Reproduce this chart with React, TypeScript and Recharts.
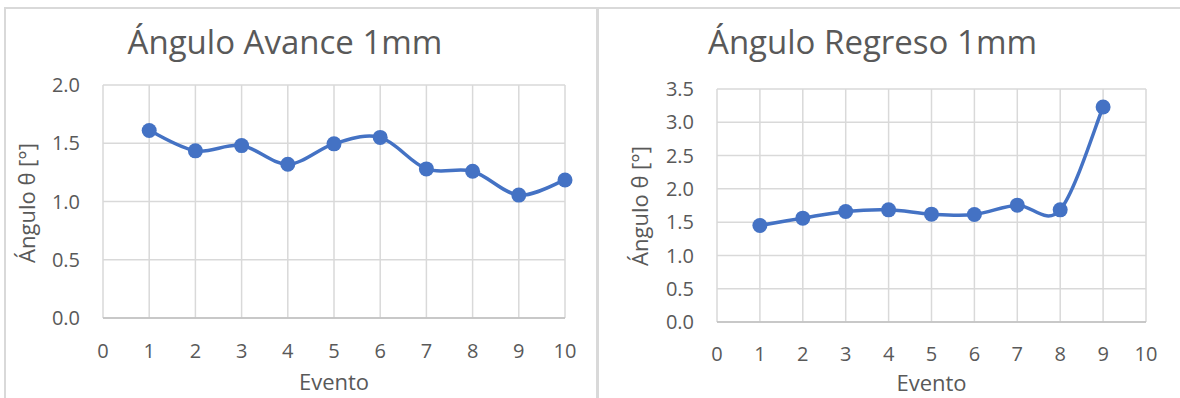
import React from 'react';
import { LineChart, Line, XAxis, YAxis, CartesianGrid } from 'recharts';

const avanceEvents = [1, 2, 3, 4, 5, 6, 7, 8, 9, 10];
const avanceValues = [1.61, 1.435, 1.48, 1.32, 1.495, 1.55, 1.28, 1.26, 1.055, 1.185];
const regresoEvents = [1, 2, 3, 4, 5, 6, 7, 8, 9];
const regresoValues = [1.45, 1.56, 1.66, 1.685, 1.62, 1.615, 1.755, 1.685, 3.23];
const xTicks = [0, 1, 2, 3, 4, 5, 6, 7, 8, 9, 10];
const avanceYTicks = [0, 0.5, 1, 1.5, 2];
const regresoYTicks = [0, 0.5, 1, 1.5, 2, 2.5, 3, 3.5];

const avanceData = avanceEvents.map((e, i) => ({ evento: e, angulo: avanceValues[i] }));
const regresoData = regresoEvents.map((e, i) => ({ evento: e, angulo: regresoValues[i] }));

const FONT = '"Open Sans", "DejaVu Sans", sans-serif';
const TEXT = '#595959';
const GRID = '#D9D9D9';
const BLUE = '#4472C4';

// Excel-like smoothed line (uniform Catmull-Rom as cubic Bezier)
function excelSmooth(context: any) {
  let pts: number[][] = [];
  return {
    areaStart() {},
    areaEnd() {},
    lineStart() {
      pts = [];
    },
    lineEnd() {
      const n = pts.length;
      if (n === 0) return;
      context.moveTo(pts[0][0], pts[0][1]);
      for (let i = 0; i < n - 1; i++) {
        const p0 = pts[i - 1] || pts[i];
        const p1 = pts[i];
        const p2 = pts[i + 1];
        const p3 = pts[i + 2] || pts[i + 1];
        context.bezierCurveTo(
          p1[0] + (p2[0] - p0[0]) / 6,
          p1[1] + (p2[1] - p0[1]) / 6,
          p2[0] - (p3[0] - p1[0]) / 6,
          p2[1] - (p3[1] - p1[1]) / 6,
          p2[0],
          p2[1]
        );
      }
    },
    point(x: number, y: number) {
      pts.push([+x, +y]);
    },
  };
}

const tickStyle = { fontSize: 20, fill: TEXT, fontFamily: FONT };
const fmt = (v: number) => v.toFixed(1);

export default function App() {
  return (
    <div style={{ position: 'absolute', left: 0, top: 0, width: 1180, height: 398, background: '#fff', overflow: 'hidden' }}>
      <div style={{ position: 'absolute', left: 4, top: 7, width: 590, height: 400, borderTop: `2px solid ${GRID}`, borderLeft: `2px solid ${GRID}`, borderRight: `2px solid ${GRID}` }} />
      <div style={{ position: 'absolute', left: 598, top: 7, width: 600, height: 400, borderTop: `2px solid ${GRID}`, borderLeft: `1px solid ${GRID}` }} />

      <div style={{ position: 'absolute', left: 0, top: 0 }}>
        <LineChart width={590} height={398} data={avanceData} margin={{ top: 85, right: 25, bottom: 20, left: 43 }}>
          <CartesianGrid stroke={GRID} strokeWidth={1.5} />
          <XAxis
            type="number"
            dataKey="evento"
            domain={[0, 10]}
            ticks={xTicks}
            height={60}
            tickLine={false}
            tickSize={0}
            tickMargin={26}
            axisLine={{ stroke: '#BFBFBF', strokeWidth: 1.5 }}
            tick={tickStyle}
            interval={0}
          />
          <YAxis
            type="number"
            domain={[0, 2]}
            ticks={avanceYTicks}
            width={60}
            tickLine={false}
            tickSize={0}
            tickMargin={23}
            axisLine={false}
            tick={tickStyle}
            tickFormatter={fmt}
            interval={0}
          />
          <Line
            dataKey="angulo"
            type={excelSmooth as any}
            stroke={BLUE}
            strokeWidth={3.5}
            dot={{ r: 7.5, fill: BLUE, stroke: BLUE, strokeWidth: 0 }}
            isAnimationActive={false}
          />
        </LineChart>
      </div>

      <div style={{ position: 'absolute', left: 598, top: 0 }}>
        <LineChart width={582} height={398} data={regresoData} margin={{ top: 89, right: 34, bottom: 20, left: 59 }}>
          <CartesianGrid stroke={GRID} strokeWidth={1.5} />
          <XAxis
            type="number"
            dataKey="evento"
            domain={[0, 10]}
            ticks={xTicks}
            height={56}
            tickLine={false}
            tickSize={0}
            tickMargin={25}
            axisLine={{ stroke: '#BFBFBF', strokeWidth: 1.5 }}
            tick={tickStyle}
            interval={0}
          />
          <YAxis
            type="number"
            domain={[0, 3.5]}
            ticks={regresoYTicks}
            width={60}
            tickLine={false}
            tickSize={0}
            tickMargin={23}
            axisLine={false}
            tick={tickStyle}
            tickFormatter={fmt}
            interval={0}
          />
          <Line
            dataKey="angulo"
            type={excelSmooth as any}
            stroke={BLUE}
            strokeWidth={3.5}
            dot={{ r: 7.5, fill: BLUE, stroke: BLUE, strokeWidth: 0 }}
            isAnimationActive={false}
          />
        </LineChart>
      </div>

      <svg width={1180} height={398} style={{ position: 'absolute', left: 0, top: 0, pointerEvents: 'none' }}>
        <g fontFamily={FONT} fill={TEXT}>
          <text x={285} y={54} textAnchor="middle" fontSize={33}>Ángulo Avance 1mm</text>
          <text x={872.5} y={54} textAnchor="middle" fontSize={33}>Ángulo Regreso 1mm</text>
          <text x={334} y={390} textAnchor="middle" fontSize={22}>Evento</text>
          <text x={931.5} y={391} textAnchor="middle" fontSize={22}>Evento</text>
          <text x={35} y={203} textAnchor="middle" fontSize={22} transform="rotate(-90 35 203)">Ángulo θ [°]</text>
          <text x={648} y={206} textAnchor="middle" fontSize={22} transform="rotate(-90 648 206)">Ángulo θ [°]</text>
        </g>
      </svg>
    </div>
  );
}
